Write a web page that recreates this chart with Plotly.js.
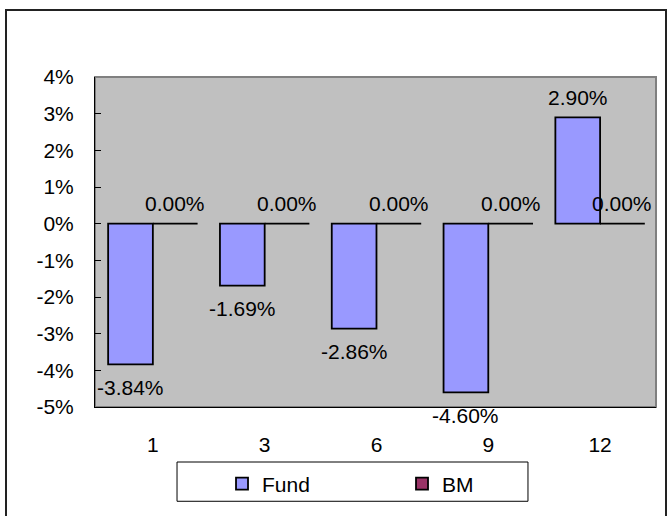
<!DOCTYPE html>
<html>
<head>
<meta charset="utf-8">
<script src="https://cdn.plot.ly/plotly-3.0.1.min.js"></script>
<style>
  html, body { margin: 0; padding: 0; background: #fff; overflow: hidden; }
  #wrap { position: relative; width: 670px; height: 516px; overflow: hidden; }
  #chart { width: 670px; height: 516px; }
  #frame { position: absolute; left: 5px; top: 9px; width: 662px; height: 512px;
           border: 2px solid #222; pointer-events: none; box-sizing: border-box; }
</style>
</head>
<body>
<div id="wrap">
  <div id="chart"></div>
  <div id="frame"></div>
</div>
<script>
// Data
const categories = ['1', '3', '6', '9', '12'];
const fundValues = [-0.0384, -0.0169, -0.0286, -0.0460, 0.0290];
const bmValues = [0, 0, 0, 0, 0];
const yTickVals = [-0.05, -0.04, -0.03, -0.02, -0.01, 0, 0.01, 0.02, 0.03, 0.04];
const yTickText = yTickVals.map(v => Math.round(v * 100) + '%');

const FONT = 'Liberation Sans, Arial, sans-serif';
const FS = 21;

function fmt(v) { return (v * 100).toFixed(2) + '%'; }

// data labels, anchored to each bar through the axis scales
const BAR_HALF = 0.2; // half-offset of each bar within its group (bargap 0.2, 2 bars)
const annotations = [];
[[fundValues, -BAR_HALF], [bmValues, BAR_HALF]].forEach(([vals, off]) => {
  vals.forEach((v, i) => {
    annotations.push({
      xref: 'x', yref: 'y', x: i + off, y: v, text: fmt(v), showarrow: false,
      xanchor: 'center', yanchor: 'middle', yshift: v < 0 ? -23 : 20,
      font: { family: FONT, size: FS, color: '#000' }
    });
  });
});

const traces = [
  {
    type: 'bar', name: 'Fund', x: categories, y: fundValues,
    marker: { color: '#9999FF', line: { color: '#000', width: 1.8 } },
    hoverinfo: 'none'
  },
  {
    type: 'bar', name: 'BM', x: categories, y: bmValues,
    marker: { color: '#993366', line: { color: '#000', width: 1.8 } },
    hoverinfo: 'none'
  }
];

const layout = {
  width: 670, height: 516,
  margin: { l: 95, r: 14, t: 77, b: 103 },
  paper_bgcolor: '#fff', plot_bgcolor: '#C0C0C0',
  font: { family: FONT, size: FS, color: '#000' },
  barmode: 'group', bargap: 0.2, bargroupgap: 0,
  showlegend: true,
  legend: {
    orientation: 'h', x: 0.2264, xanchor: 'left', y: -0.233, yanchor: 'middle',
    borderwidth: 0, bgcolor: 'rgba(0,0,0,0)',
    entrywidth: 135, font: { family: FONT, size: FS, color: '#000' }
  },
  xaxis: {
    type: 'category', showgrid: false, zeroline: false, showline: true,
    linecolor: '#000', linewidth: 1, ticks: '', tickfont: { size: FS },
    ticklabelstandoff: 19, fixedrange: true
  },
  xaxis2: {
    overlaying: 'x', anchor: 'free', position: 0.5556, range: [0, 5],
    dtick: 1, tick0: 0, showgrid: false, zeroline: false, showline: true,
    linecolor: '#000', linewidth: 1, ticks: 'inside', ticklen: 6, tickcolor: '#000',
    showticklabels: false, fixedrange: true
  },
  yaxis: {
    range: [-0.05, 0.04], tickvals: yTickVals, ticktext: yTickText,
    showgrid: false, zeroline: false, showline: true, linecolor: '#000', linewidth: 1,
    ticks: 'inside', ticklen: 6, tickcolor: '#000', tickfont: { size: FS },
    ticklabelstandoff: 16, fixedrange: true
  },
  annotations: annotations,
  shapes: [
    { type: 'rect', xref: 'paper', yref: 'paper', x0: 0, x1: 1, y0: 0, y1: 1,
      line: { color: '#808080', width: 2 }, layer: 'below' },
    { type: 'rect', xref: 'paper', yref: 'paper', x0: 0.1462, x1: 0.7718, y0: -0.2857, y1: -0.1667,
      line: { color: '#000', width: 1 }, fillcolor: 'rgba(0,0,0,0)' }
  ]
};

Plotly.newPlot('chart', traces, layout, { staticPlot: true, displayModeBar: false });
</script>
</body>
</html>
